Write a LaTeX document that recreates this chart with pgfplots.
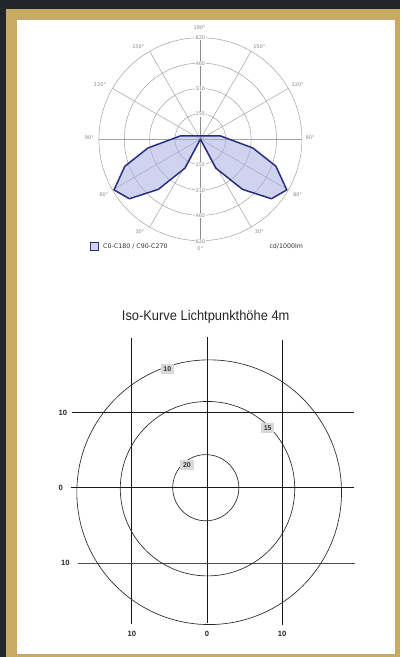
\documentclass[border=0pt]{standalone}
\usepackage{graphicx}
\usepackage{pgfplots}
\pgfplotsset{compat=1.18}
\usepackage{fontspec}
\setmainfont{Liberation Sans}
\newfontfamily\dv{DejaVu Sans}
\definecolor{bgdark}{HTML}{22262A}
\definecolor{gold}{HTML}{C8AA64}
\definecolor{navy}{HTML}{28307E}
\definecolor{lobe}{HTML}{AAAFE1}
\definecolor{pgrid}{HTML}{A2A2A2}
\definecolor{plabel}{HTML}{888888}
\definecolor{boxgray}{HTML}{D9D9D9}
\begin{document}
\begin{tikzpicture}[x=1pt,y=1pt]
\useasboundingbox (0,0) rectangle (400,657);
\fill[bgdark] (0,0) rectangle (400,657);
\fill[gold] (6,0) rectangle (400,648);
\fill[white] (16.5,2.7) rectangle (394.5,637);

% ---------------- polar light distribution ----------------
\begin{axis}[at={(200.4pt,517.8pt)}, anchor=center,
  x=0.16371pt, y=0.16371pt,
  xmin=-640, xmax=640, ymin=-640, ymax=640,
  hide axis, clip=false]
\draw[pgrid, line width=0.5pt] (axis cs:0,0) circle[radius=155];
\draw[pgrid, line width=0.5pt] (axis cs:0,0) circle[radius=310];
\draw[pgrid, line width=0.5pt] (axis cs:0,0) circle[radius=465];
\draw[pgrid, line width=0.5pt] (axis cs:0,0) circle[radius=620];
\draw[pgrid, line width=0.5pt] (axis cs:-620,0) -- (axis cs:620,0);
\draw[pgrid, line width=0.5pt] (axis cs:-536.9,-310) -- (axis cs:536.9,310);
\draw[pgrid, line width=0.5pt] (axis cs:-310,-536.9) -- (axis cs:310,536.9);
\draw[pgrid, line width=0.5pt] (axis cs:-310,536.9) -- (axis cs:310,-536.9);
\draw[pgrid, line width=0.5pt] (axis cs:-536.9,310) -- (axis cs:536.9,-310);
\draw[black!45, line width=0.6pt] (axis cs:0,-620) -- (axis cs:0,620);
% C0-C180 / C90-C270 (polar angle, cd/1000lm)
\addplot[data cs=polar, no markers, draw=navy, line width=1.5pt, line join=round,
  fill=lobe, fill opacity=0.55] coordinates {
  (-90,0) (-62,200) (-50,400) (-40,566) (-30.4,612) (-19.7,490) (-9.5,325) (9,125)
  (90,20)
  (171,125) (189.5,325) (199.7,490) (210.4,612) (220,566) (230,400) (242,200) (270,0)
} -- cycle;
\end{axis}

\begin{scope}[every node/.style={font=\dv\fontsize{5}{6}\selectfont, text=plabel, inner sep=0.6pt}]
\node[fill=white] at (200.4,619.3) {620};
\node[fill=white] at (200.4,593.7) {465};
\node[fill=white] at (200.4,568.2) {310};
\node[fill=white] at (200.4,542.9) {155};
\node[fill=white] at (200.4,492.3) {155};
\node[fill=white] at (200.4,466.8) {310};
\node[fill=white] at (200.4,441.2) {465};
\node[fill=white] at (200.4,415.8) {620};
\node at (199.6,628.9) {180°};
\node at (200.2,408.1) {0°};
\node at (138.3,610.3) {150°};
\node at (259.3,610.3) {150°};
\node at (100.0,572.7) {120°};
\node at (297.7,572.7) {120°};
\node at (89.3,519.3) {90°};
\node at (310.0,519.3) {90°};
\node at (104.0,462.3) {60°};
\node at (297.7,462.8) {60°};
\node at (140.0,425.3) {30°};
\node at (259.3,425.3) {30°};
\end{scope}
% legend
\filldraw[fill=lobe, fill opacity=0.55, draw=navy, draw opacity=1, line width=1.1pt] (90.3,406.6) rectangle (98.8,414.8);
\node[anchor=west, inner sep=0pt, font=\dv\fontsize{6.3}{7}\selectfont, text=black!80] at (103,410.6) {C0-C180 / C90-C270};
\node[anchor=west, inner sep=0pt, font=\dv\fontsize{6.3}{7}\selectfont, text=black!80] at (269.3,410.6) {cd/1000lm};

% ---------------- iso curves ----------------
\node[font=\fontsize{14}{16}\selectfont, text=black!85] at (205.7,340.3) {\scalebox{0.92}[1]{Iso-Kurve Lichtpunkthöhe 4m}};

\begin{axis}[at={(207pt,169.3pt)}, anchor=center,
  x=7.52pt, y=7.52pt,
  xmin=-22, xmax=22, ymin=-23, ymax=23,
  hide axis, clip=false]
\addplot[no markers, black!90, line width=1.1pt] coordinates {(-10,-18.1) (-10,19.9)};
\addplot[no markers, black!90, line width=1.0pt] coordinates {(0,-18.0) (0,20.0)};
\addplot[no markers, black!90, line width=1.1pt] coordinates {(10,-18.3) (10,19.7)};
\addplot[no markers, black!90, line width=1.0pt] coordinates {(-18.0,10) (19.5,10)};
\addplot[no markers, black!90, line width=1.0pt] coordinates {(-18.1,0) (19.6,0)};
\addplot[no markers, black!70, line width=0.7pt] coordinates {(-17.2,-10) (19.7,-10)};
% iso-lux curves 10, 15, 20
\draw[black!85, line width=0.65pt] (axis cs:0.29,-0.6) circle[radius=17.6];
\draw[black!85, line width=0.65pt] (axis cs:0.07,-0.13) circle[radius=11.6];
\draw[black!85, line width=0.65pt] (axis cs:-0.16,0) circle[radius=4.4];
\node[fill=boxgray, text=black!80, font=\bfseries\fontsize{7}{8}\selectfont, inner xsep=2.8pt, inner ysep=2.4pt] at (axis cs:-5.28,15.74) {10};
\node[fill=boxgray, text=black!80, font=\bfseries\fontsize{7}{8}\selectfont, inner xsep=2.8pt, inner ysep=2.4pt] at (axis cs:8.07,7.9) {15};
\node[fill=boxgray, text=black!80, font=\bfseries\fontsize{7}{8}\selectfont, inner xsep=2.8pt, inner ysep=2.4pt] at (axis cs:-2.66,2.98) {20};
\begin{scope}[every node/.style={font=\bfseries\fontsize{7.6}{9}\selectfont, text=black!85}]
\node at (axis cs:-19.18,10) {10};
\node at (axis cs:-19.45,0) {0};
\node at (axis cs:-18.84,-10) {10};
\node at (axis cs:-10,-19.39) {10};
\node at (axis cs:0,-19.39) {0};
\node at (axis cs:10,-19.39) {10};
\end{scope}
\end{axis}
\end{tikzpicture}
\end{document}
